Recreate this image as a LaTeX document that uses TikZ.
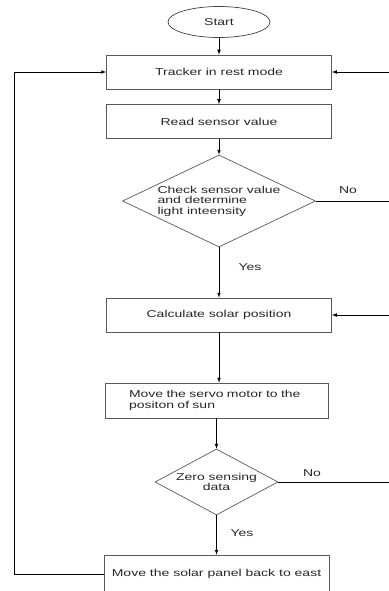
\documentclass[tikz,border=0pt]{standalone}
\usepackage{fontspec}
\usetikzlibrary{shapes.geometric}
\newfontfamily\flowfont[FakeStretch=1.4]{Liberation Sans}

\begin{document}
\begin{tikzpicture}[x=1pt, y=-1pt, >=latex, line width=0.7pt,
    every node/.style={font=\flowfont\fontsize{10}{10.5}\selectfont, text=black!85},
    block node/.style={rectangle, draw=black!65, minimum width=225pt, minimum height=34pt, inner sep=0pt},
    decision node/.style={diamond, draw=black!65, inner sep=0pt},
    start node/.style={ellipse, draw=black!75, minimum width=102pt, minimum height=31pt, inner sep=0pt}]
          \useasboundingbox (0,0) rectangle (388,591);

          \node[start node] (1) at (219,22) {Start};
          \node[block node] (2) [below of=1, node distance=50pt] {Tracker in rest mode};
          \node[block node] (3) [below of=2, node distance=49.5pt] {Read sensor value};
          \node[decision node, aspect=2.1, minimum width=193pt, minimum height=92pt, align=left] (4) [below of=3, node distance=79.5pt] {Check sensor value\\and determine\\light inteensity};
          \node[block node] (5) [below of=4, node distance=114pt] {Calculate solar position};
          \node[block node, minimum width=223pt, minimum height=35pt, text width=175pt, inner xsep=24pt, align=left] (6) at (216.5,400.5) {Move the servo motor to the\\positon of sun};
          \node[decision node, aspect=1.86, minimum width=123pt, minimum height=66pt, align=center] (7) [below of=6, node distance=81.5pt] {Zero sensing\\data};
          \node[block node, minimum height=38pt] (8) [below of=7, node distance=92pt] {Move the solar panel back to east};

          \node (no1) at (348,190) {No};
          \node (yes1) at (250,267) {Yes};
          \node (no2) at (312,473) {No};
          \node (yes2) at (242,533) {Yes};

          \coordinate (l1) at (14,72);
          \coordinate (r1) at (396,72);
          \coordinate (r2) at (396,315);

          \draw[->] (1) -- (2);
          \draw[->] (2) -- (3);
          \draw[->] (3) -- (4);
          \draw[->] (4) -- (5);
          \draw[->] (5) -- (5 |- 6.north);
          \draw[->] (6) -- (7);
          \draw[->] (7) -- (8);

          \draw[->] (8.west) -| (l1) -- (2.west);
          \draw[->] (4.east) -| (r1) -- (2.east);
          \draw[->] (7.east) -| (r2) -- (5.east);
        \end{tikzpicture}
\end{document}
